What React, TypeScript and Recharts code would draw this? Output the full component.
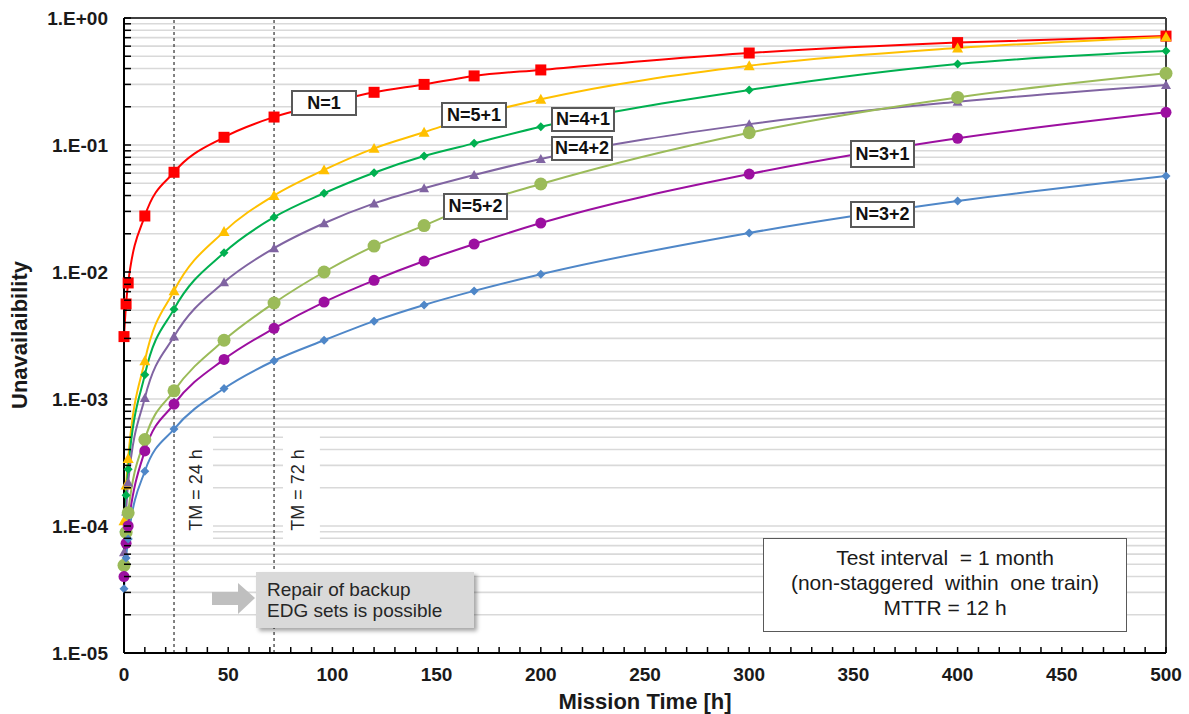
import React from 'react';
import { LineChart, Line, XAxis, YAxis, CartesianGrid, ReferenceLine, ReferenceArea } from 'recharts';

// mission time [h]
const times = [0, 1, 2, 10, 24, 48, 72, 96, 120, 144, 168, 200, 300, 400, 500];

// unavailability per configuration
const n1 = [3.1e-3, 5.6e-3, 8.2e-3, 2.76e-2, 6.1e-2, 0.115, 0.166, 0.21, 0.26, 0.3, 0.35, 0.39, 0.53, 0.64, 0.72];
const n51 = [1.1e-4, 2.1e-4, 3.4e-4, 2.0e-3, 7.1e-3, 2.08e-2, 0.04, 0.0636, 0.094, 0.126, 0.17, 0.229, 0.42, 0.58, 0.71];
const n41 = [9e-5, 1.75e-4, 2.8e-4, 1.55e-3, 5.1e-3, 1.42e-2, 0.027, 0.0417, 0.0605, 0.0819, 0.103, 0.139, 0.271, 0.434, 0.55];
const n42 = [6.2e-5, 1.3e-4, 2.2e-4, 1.02e-3, 3.1e-3, 8.3e-3, 0.0154, 0.0242, 0.0347, 0.0456, 0.058, 0.0776, 0.146, 0.219, 0.297];
const n52 = [4.9e-5, 8.9e-5, 1.27e-4, 4.8e-4, 1.16e-3, 2.9e-3, 5.7e-3, 0.01, 0.016, 0.0232, 0.034, 0.0493, 0.125, 0.237, 0.367];
const n31 = [4.0e-5, 7.3e-5, 1.0e-4, 3.9e-4, 9.1e-4, 2.05e-3, 3.6e-3, 5.8e-3, 8.6e-3, 0.0122, 0.0166, 0.0243, 0.059, 0.113, 0.181];
const n32 = [3.2e-5, 5.6e-5, 7.9e-5, 2.7e-4, 5.8e-4, 1.21e-3, 2.0e-3, 2.9e-3, 4.1e-3, 5.5e-3, 7.1e-3, 9.6e-3, 0.0203, 0.0362, 0.057];

// axis ticks
const majorY = [1e-5, 1e-4, 1e-3, 1e-2, 1e-1, 1];
const majorYLabels = ['1.E-05', '1.E-04', '1.E-03', '1.E-02', '1.E-01', '1.E+00'];
const mantissas = [1, 2, 3, 4, 5, 6, 7, 8, 9];
const xTicks = Array.from({ length: 51 }, (_, i) => i * 10);
const xLabels = [0, 50, 100, 150, 200, 250, 300, 350, 400, 450, 500];

const gridY = majorY.slice(0, 5).flatMap((d) => mantissas.map((m) => +(m * d).toPrecision(3))).concat([1]);

const data = times.map((t, i) => ({
  t,
  n1: n1[i],
  n51: n51[i],
  n41: n41[i],
  n42: n42[i],
  n52: n52[i],
  n31: n31[i],
  n32: n32[i],
}));

const FONT = '"Liberation Sans", Arial, sans-serif';

const marker = (shape: string, color: string, size: number) => (props: any) => {
  const { cx, cy, index } = props;
  if (cx == null || cy == null) return <g key={`m-${index}`} />;
  const h = size / 2;
  if (shape === 'square') return <rect key={`m-${index}`} x={cx - h} y={cy - h} width={size} height={size} fill={color} />;
  if (shape === 'triangle')
    return <polygon key={`m-${index}`} points={`${cx},${cy - h} ${cx + h},${cy + h * 0.8} ${cx - h},${cy + h * 0.8}`} fill={color} />;
  if (shape === 'diamond')
    return <polygon key={`m-${index}`} points={`${cx},${cy - h} ${cx + h},${cy} ${cx},${cy + h} ${cx - h},${cy}`} fill={color} />;
  return <circle key={`m-${index}`} cx={cx} cy={cy} r={h} fill={color} />;
};

const YTick = (props: any) => {
  const { x, y, payload } = props;
  const idx = majorY.findIndex((v) => Math.abs(v - payload.value) / v < 1e-6);
  return (
    <g>
      <line x1={x} x2={x + 7} y1={y} y2={y} stroke="#000" strokeWidth={1.5} />
      {idx >= 0 && (
        <text x={x - 16} y={y} dy={7} textAnchor="end" fontFamily={FONT} fontWeight="bold" fontSize={19} fill="#1a1a1a">
          {majorYLabels[idx]}
        </text>
      )}
    </g>
  );
};

const XTick = (props: any) => {
  const { x, y, payload } = props;
  const show = xLabels.includes(payload.value);
  return (
    <g>
      <line x1={x} x2={x} y1={y} y2={y - 6} stroke="#000" strokeWidth={1.5} />
      {show && (
        <text x={x} y={y + 28} textAnchor="middle" fontFamily={FONT} fontWeight="bold" fontSize={19} fill="#1a1a1a">
          {payload.value}
        </text>
      )}
    </g>
  );
};

const labelBox = (left: number, top: number, w: number, h: number): React.CSSProperties => ({
  position: 'absolute',
  left,
  top,
  width: w,
  height: h,
  boxSizing: 'border-box',
  border: '2px solid #595959',
  background: '#fff',
  display: 'flex',
  alignItems: 'center',
  justifyContent: 'center',
  fontFamily: FONT,
  fontWeight: 'bold',
  fontSize: 18,
  color: '#111',
  whiteSpace: 'nowrap',
});

const tmText = (cx: number, cy: number): React.CSSProperties => ({
  position: 'absolute',
  left: cx,
  top: cy,
  transform: 'translate(-50%, -50%) rotate(-90deg)',
  fontFamily: FONT,
  fontSize: 18,
  color: '#262626',
  whiteSpace: 'nowrap',
});

const App = () => {
  return (
    <div style={{ position: 'absolute', left: 0, top: 0, width: 1189, height: 714, background: '#fff' }}>
      <LineChart width={1189} height={714} data={data} margin={{ top: 18, right: 23, bottom: 0, left: 0 }}>
        <CartesianGrid horizontalValues={gridY} vertical={false} stroke="#d9d9d9" strokeWidth={1.6} />
        <XAxis
          dataKey="t"
          type="number"
          domain={[0, 500]}
          ticks={xTicks}
          interval={0}
          height={61}
          tickSize={0}
          tickMargin={0}
          tickLine={false}
          tick={<XTick />}
          axisLine={{ stroke: '#000', strokeWidth: 2 }}
        />
        <YAxis
          type="number"
          scale="log"
          domain={[1e-5, 1]}
          allowDataOverflow
          ticks={gridY}
          interval={0}
          width={124}
          tickSize={0}
          tickMargin={0}
          tickLine={false}
          tick={<YTick />}
          axisLine={{ stroke: '#000', strokeWidth: 2 }}
        />
        <ReferenceArea x1={4} x2={42.7} y1={7.3e-5} y2={5.5e-4} fill="#fff" fillOpacity={1} stroke="none" />
        <ReferenceArea x1={76.3} x2={94} y1={7.3e-5} y2={5.5e-4} fill="#fff" fillOpacity={1} stroke="none" />
        <ReferenceLine x={24} stroke="#404040" strokeWidth={1.3} strokeDasharray="3 3" />
        <ReferenceLine x={72} stroke="#404040" strokeWidth={1.3} strokeDasharray="3 3" />
        <ReferenceLine y={1} stroke="#404040" strokeWidth={2} />
        <ReferenceLine x={500} stroke="#404040" strokeWidth={2} />
        <Line type="monotone" dataKey="n1" stroke="#ff0000" strokeWidth={2} dot={marker('square', '#ff0000', 11)} isAnimationActive={false} />
        <Line type="monotone" dataKey="n51" stroke="#ffc000" strokeWidth={2} dot={marker('triangle', '#ffc000', 11)} isAnimationActive={false} />
        <Line type="monotone" dataKey="n41" stroke="#00b050" strokeWidth={2} dot={marker('diamond', '#00b050', 9)} isAnimationActive={false} />
        <Line type="monotone" dataKey="n42" stroke="#8064a2" strokeWidth={2} dot={marker('triangle', '#8064a2', 10)} isAnimationActive={false} />
        <Line type="monotone" dataKey="n52" stroke="#9bbb59" strokeWidth={2} dot={marker('circle', '#9bbb59', 13)} isAnimationActive={false} />
        <Line type="monotone" dataKey="n31" stroke="#9c0fa0" strokeWidth={2} dot={marker('circle', '#9c0fa0', 11)} isAnimationActive={false} />
        <Line type="monotone" dataKey="n32" stroke="#4f87c8" strokeWidth={2} dot={marker('diamond', '#4f87c8', 9)} isAnimationActive={false} />
      </LineChart>

      {/* axis titles */}
      <div style={{ position: 'absolute', left: 645, top: 702, transform: 'translate(-50%, -50%)', fontFamily: FONT, fontWeight: 'bold', fontSize: 22, color: '#1a1a1a', whiteSpace: 'nowrap' }}>
        Mission Time [h]
      </div>
      <div style={{ position: 'absolute', left: 20, top: 335, transform: 'translate(-50%, -50%) rotate(-90deg)', fontFamily: FONT, fontWeight: 'bold', fontSize: 22, color: '#1a1a1a', whiteSpace: 'nowrap' }}>
        Unavailaibility
      </div>

      {/* series labels */}
      <div style={labelBox(291, 90, 66, 26)}>N=1</div>
      <div style={labelBox(441, 102, 66, 26)}>N=5+1</div>
      <div style={labelBox(551, 107, 64, 25)}>N=4+1</div>
      <div style={labelBox(551, 136, 62, 25)}>N=4+2</div>
      <div style={labelBox(443, 193, 65, 27)}>N=5+2</div>
      <div style={labelBox(850, 140, 65, 28)}>N=3+1</div>
      <div style={labelBox(850, 201, 65, 27)}>N=3+2</div>

      <div style={tmText(196, 490)}>TM = 24 h</div>
      <div style={tmText(298, 490)}>TM = 72 h</div>

      {/* repair note */}
      <svg style={{ position: 'absolute', left: 0, top: 0 }} width={1189} height={714} pointerEvents="none">
        <polygon points="212,592 238,592 238,583 255,598 238,614 238,605 212,605" fill="#bfbfbf" />
      </svg>
      <div
        style={{
          position: 'absolute',
          left: 256,
          top: 572,
          width: 218,
          height: 56,
          boxSizing: 'border-box',
          background: '#d9d9d9',
          boxShadow: '3px 3px 4px rgba(0,0,0,0.35)',
          padding: '7px 0 0 11px',
          fontFamily: FONT,
          fontSize: 19,
          lineHeight: '21px',
          color: '#262626',
          whiteSpace: 'nowrap',
        }}
      >
        Repair of backup
        <br />
        EDG sets is possible
      </div>

      {/* test interval box */}
      <div
        style={{
          position: 'absolute',
          left: 763,
          top: 538,
          width: 364,
          height: 94,
          boxSizing: 'border-box',
          border: '1.5px solid #595959',
          background: '#fff',
          paddingTop: 6,
          textAlign: 'center',
          fontFamily: FONT,
          fontSize: 21,
          lineHeight: '25px',
          color: '#1a1a1a',
          whiteSpace: 'pre',
        }}
      >
        {'Test interval  = 1 month\n(non-staggered  within  one train)\nMTTR = 12 h'}
      </div>
    </div>
  );
};

export default App;
